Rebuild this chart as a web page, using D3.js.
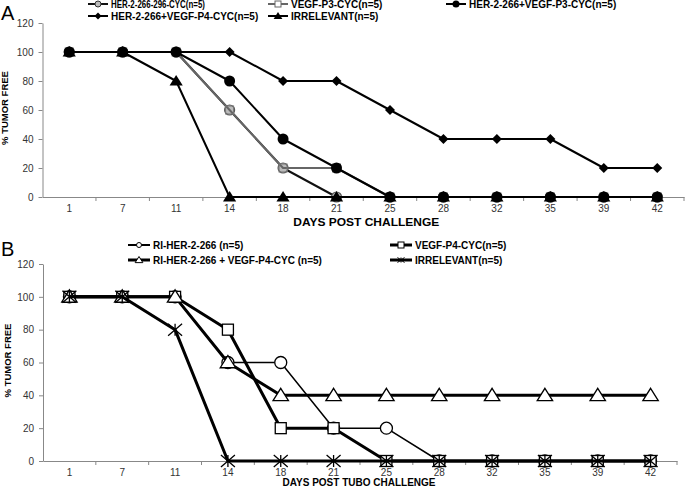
<!DOCTYPE html>
<html><head><meta charset="utf-8">
<script src="https://cdnjs.cloudflare.com/ajax/libs/d3/7.8.5/d3.min.js"></script>
<style>
html,body{margin:0;padding:0;background:#fff;}
svg{display:block;font-family:Arial,"Liberation Sans",sans-serif;}
</style></head><body>
<svg id="c" width="685" height="495"></svg>
<script>
const days = ["1","7","11","14","18","21","25","28","32","35","39","42"];
const yTicks = [0,20,40,60,80,100,120];

// Panel A
const aNames = ["HER-2-266-296-CYC(n=5)","VEGF-P3-CYC(n=5)","HER-2-266+VEGF-P3-CYC(n=5)","HER-2-266+VEGF-P4-CYC(n=5)","IRRELEVANT(n=5)"];
const aHer296   = [100,100,100,60,20,0,0,0,0,0,0,0];
const aVegfP3   = [100,100,100,60,20,20,0,0,0,0,0,0];
const aHerP3    = [100,100,100,80,40,20,0,0,0,0,0,0];
const aHerP4    = [100,100,100,100,80,80,60,40,40,40,20,20];
const aIrrel    = [100,100,80,0,0,0,0,0,0,0,0,0];

// Panel B
const bNames = ["RI-HER-2-266 (n=5)","VEGF-P4-CYC(n=5)","RI-HER-2-266 + VEGF-P4-CYC (n=5)","IRRELEVANT(n=5)"];
const bRiHer    = [100,100,100,60,60,20,20,0,0,0,0,0];
const bVegfP4   = [100,100,100,80,20,20,0,0,0,0,0,0];
const bRiHerP4  = [100,100,100,60,40,40,40,40,40,40,40,40];
const bIrrel    = [100,100,80,0,0,0,0,0,0,0,0,0];

const svg = d3.select("#c");

function drawMarker(g, type, x, y, st){
  if(type==="circle"){
    g.append("circle").attr("cx",x).attr("cy",y).attr("r",st.r)
      .attr("fill",st.fill).attr("stroke",st.stroke).attr("stroke-width",st.sw);
  } else if(type==="square"){
    g.append("rect").attr("x",x-st.r).attr("y",y-st.r).attr("width",2*st.r).attr("height",2*st.r)
      .attr("fill",st.fill).attr("stroke",st.stroke).attr("stroke-width",st.sw);
  } else if(type==="diamond"){
    const r=st.r;
    g.append("path").attr("transform",`translate(${x},${y})`)
      .attr("d",`M0,${-r}L${r},0L0,${r}L${-r},0Z`)
      .attr("fill",st.fill).attr("stroke",st.stroke).attr("stroke-width",st.sw);
  } else if(type==="triangle"){
    const r=st.r;
    g.append("path").attr("transform",`translate(${x},${y})`)
      .attr("d",`M0,${-r}L${r*1.1},${r*0.75}L${-r*1.1},${r*0.75}Z`)
      .attr("fill",st.fill).attr("stroke",st.stroke).attr("stroke-width",st.sw);
  } else if(type==="asterisk"){
    const w=st.size/2, h=st.size/2-1;
    g.append("path").attr("transform",`translate(${x},${y})`)
      .attr("d",`M0,${-h}L0,${h}M${-w},${-h}L${w},${h}M${-w},${h}L${w},${-h}`)
      .attr("fill","none").attr("stroke",st.stroke).attr("stroke-width",st.sw);
  }
}

function panel(cfg){
  const g = svg.append("g");
  const x = d3.scaleBand().domain(days).range([cfg.x0,cfg.x1]);
  const y = d3.scaleLinear().domain([0,120]).range([cfg.y0,cfg.y1]);
  const cx = d => x(d)+x.bandwidth()/2;

  const ya = g.append("g").attr("transform",`translate(${cfg.x0},0)`)
    .call(d3.axisLeft(y).tickValues(yTicks).tickSize(4).tickPadding(5).tickSizeOuter(0));
  ya.select(".domain").attr("stroke","#888");
  ya.selectAll(".tick line").attr("stroke","#888");
  ya.selectAll("text").attr("font-size",10).attr("fill","#333").attr("font-family","Arial,'Liberation Sans',sans-serif");

  const xa = g.append("g").attr("transform",`translate(0,${cfg.y0})`)
    .call(d3.axisBottom(x).tickSize(0).tickPadding(8).tickSizeOuter(0));
  xa.select(".domain").attr("stroke","#888");
  xa.selectAll("text").attr("font-size",10).attr("fill","#333").attr("font-family","Arial,'Liberation Sans',sans-serif");
  g.append("g").selectAll("line").data(days.slice(1).concat(["__end"]))
    .join("line")
    .attr("x1",d=> d==="__end"? cfg.x1 : x(d)).attr("x2",d=> d==="__end"? cfg.x1 : x(d))
    .attr("y1",cfg.y0).attr("y2",cfg.y0+4).attr("stroke","#888");

  const xt = g.append("text").attr("x",(cfg.x0+cfg.x1)/2+cfg.xtDx).attr("y",cfg.xtY)
    .attr("text-anchor","middle").attr("font-weight","bold").attr("font-size",cfg.xtSize)
    .text(cfg.xTitle);
  if(cfg.xtLen) xt.attr("textLength",cfg.xtLen).attr("lengthAdjust","spacingAndGlyphs");
  g.append("text").attr("transform",`translate(${cfg.ytX},${(cfg.y0+cfg.y1)/2-2}) rotate(-90)`)
    .attr("text-anchor","middle").attr("font-weight","bold").attr("font-size",9.5)
    .attr("dy","0.35em").text("% TUMOR FREE");

  g.append("text").attr("x",1).attr("y",cfg.letterY).attr("font-size",20).text(cfg.letter);

  const line = d3.line().x((d,i)=>cx(days[i])).y(d=>y(d));
  cfg.series.forEach(s=>{
    g.append("path").datum(s.values).attr("d",line).attr("fill","none")
      .attr("stroke",s.lineColor).attr("stroke-width",s.lw).attr("stroke-linejoin","round");
    const mg = g.append("g");
    s.values.forEach((v,i)=> drawMarker(mg, s.marker, cx(days[i]), y(v), s.ms));
  });

  cfg.series.forEach((s,i)=>{
    const p = cfg.legendPos[i];
    const lg = g.append("g");
    lg.append("line").attr("x1",p[0]).attr("x2",p[0]+cfg.legLineW).attr("y1",p[1]).attr("y2",p[1])
      .attr("stroke",s.lineColor).attr("stroke-width",s.legLw||s.lw);
    drawMarker(lg, s.marker, p[0]+cfg.legLineW/2, p[1], s.legMs);
    const t = lg.append("text").attr("x",p[0]+cfg.legLineW+3).attr("y",p[1]).attr("dy","0.35em")
      .attr("font-size",10).attr("font-weight","bold").text(s.name);
    if(s.legLen) t.attr("textLength",s.legLen).attr("lengthAdjust","spacingAndGlyphs");
  });
}

panel({
  letter:"A", letterY:20,
  x0:42.5, x1:684, y0:197, y1:23,
  xTitle:"DAYS POST CHALLENGE", xtY:226, xtSize:10.5, xtDx:3, xtLen:146, ytX:5,
  legLineW:20,
  legendPos:[[88,4],[268,4],[446,4],[88,16],[268,16]],
  series:[
    {name:aNames[0], values:aHer296, marker:"circle", lineColor:"#111", lw:2, legLen:94,
     ms:{r:5,fill:"#bbb",stroke:"#555",sw:1.2}, legMs:{r:3,fill:"#bbb",stroke:"#333",sw:1}},
    {name:aNames[1], values:aVegfP3, marker:"square", lineColor:"#666", lw:2,
     ms:{r:4,fill:"none",stroke:"#777",sw:1}, legMs:{r:3,fill:"#fff",stroke:"#666",sw:1}},
    {name:aNames[2], values:aHerP3, marker:"circle", lineColor:"#000", lw:2,
     ms:{r:5.5,fill:"#000",stroke:"#000",sw:0}, legMs:{r:3.5,fill:"#000",stroke:"#000",sw:0}},
    {name:aNames[3], values:aHerP4, marker:"diamond", lineColor:"#000", lw:2,
     ms:{r:5,fill:"#000",stroke:"#000",sw:0}, legMs:{r:3.5,fill:"#000",stroke:"#000",sw:0}},
    {name:aNames[4], values:aIrrel, marker:"triangle", lineColor:"#000", lw:2,
     ms:{r:6,fill:"#000",stroke:"#000",sw:0}, legMs:{r:4,fill:"#000",stroke:"#000",sw:0}}
  ]
});

panel({
  letter:"B", letterY:256,
  x0:43, x1:677, y0:461, y1:264,
  xTitle:"DAYS POST TUBO CHALLENGE", xtY:486, xtSize:10, xtDx:-1, ytX:8,
  legLineW:22,
  legendPos:[[128,245],[390,245],[128,260],[390,260]],
  series:[
    {name:bNames[0], values:bRiHer, marker:"circle", lineColor:"#000", lw:1.5, legLw:2,
     ms:{r:6,fill:"#fff",stroke:"#000",sw:1.3}, legMs:{r:2.5,fill:"#fff",stroke:"#000",sw:1}},
    {name:bNames[1], values:bVegfP4, marker:"square", lineColor:"#000", lw:3,
     ms:{r:5.5,fill:"#fff",stroke:"#000",sw:1.3}, legMs:{r:3,fill:"#fff",stroke:"#000",sw:1}},
    {name:bNames[2], values:bRiHerP4, marker:"triangle", lineColor:"#000", lw:3,
     ms:{r:7,fill:"#fff",stroke:"#000",sw:1.3}, legMs:{r:3.5,fill:"#fff",stroke:"#000",sw:1}},
    {name:bNames[3], values:bIrrel, marker:"asterisk", lineColor:"#000", lw:3,
     ms:{size:14,stroke:"#000",sw:1.3}, legMs:{size:7,stroke:"#000",sw:1}}
  ]
});
</script>
</body></html>
